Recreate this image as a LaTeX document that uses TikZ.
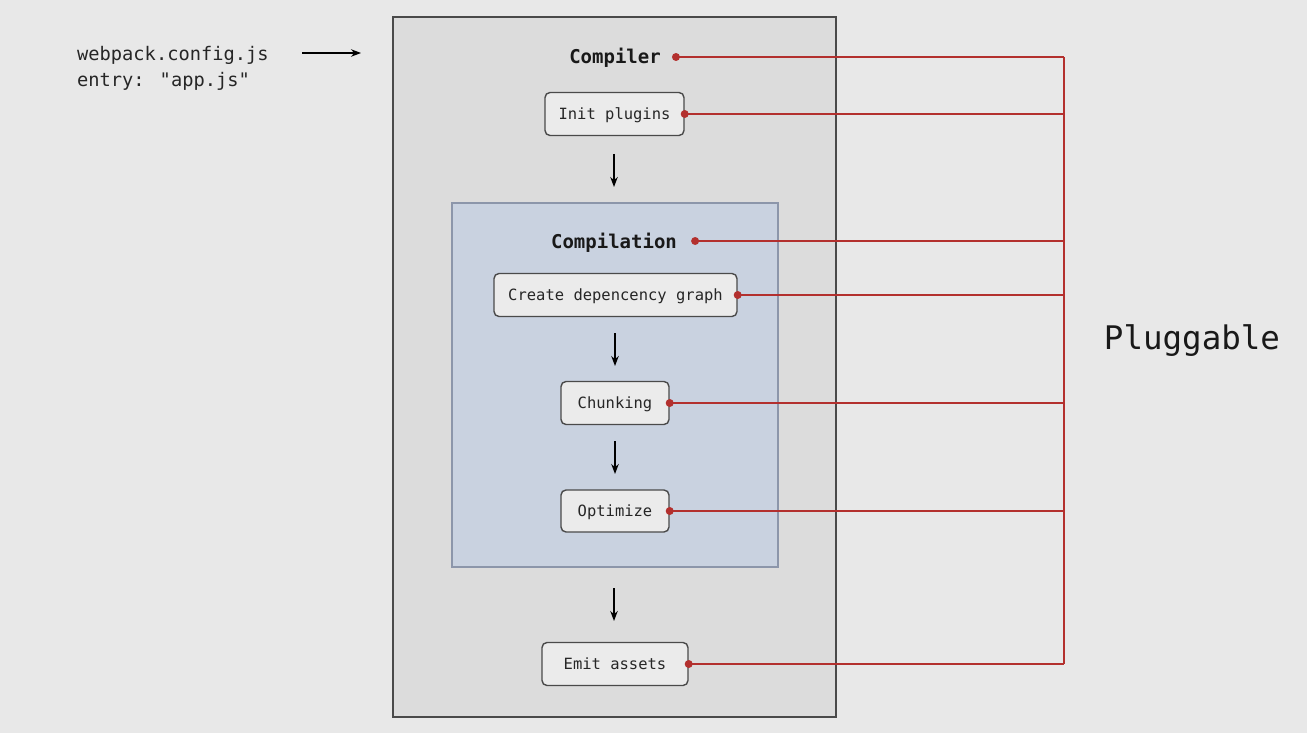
\documentclass[tikz,border=0pt]{standalone}
\usepackage{fontspec}
\newfontfamily\mono{DejaVu Sans Mono}
\usetikzlibrary{arrows.meta}
\definecolor{bgc}{HTML}{E8E8E8}
\definecolor{outerfill}{HTML}{DCDCDC}
\definecolor{outerline}{HTML}{4A4A4A}
\definecolor{innerfill}{HTML}{C9D2E0}
\definecolor{innerline}{HTML}{8C96AA}
\definecolor{boxfill}{HTML}{EBEBEB}
\definecolor{plug}{HTML}{B3302E}
\tikzset{
  stepbox/.style={draw=outerline, line width=1.4pt, fill=boxfill, rounded corners=5pt,
    font=\mono\fontsize{15.5}{18}\selectfont, text=black!85, inner sep=0pt,
    text height=11pt, text depth=0pt},
  heading/.style={font=\mono\bfseries\fontsize{19}{22}\selectfont, text=black!90, inner sep=0pt,
    text height=14pt, text depth=0pt},
  flow/.style={line width=1.3pt, -{Stealth[length=10pt,width=7.5pt]}},
  hook/.style={draw=plug, line width=1.8pt},
  hookdot/.style={circle, fill=plug, inner sep=0pt, minimum size=8pt},
}
\begin{document}
\begin{tikzpicture}[x=1pt,y=-1pt]
  % canvas
  \fill[bgc] (0,0) rectangle (1307,733);
  \useasboundingbox (0,0) rectangle (1307,733);

  % compiler frame and compilation frame
  \draw[fill=outerfill, draw=outerline, line width=1.5pt] (393,17) rectangle (836,717);
  \draw[fill=innerfill, draw=innerline, line width=1.5pt] (452,203) rectangle (778,567);

  % configuration input
  \node[anchor=west, inner sep=0pt, align=left, font=\mono\fontsize{18.7}{26}\selectfont, text=black!85]
    (config) at (77,68) {webpack.config.js\\entry: "app.js"};
  \coordinate (inS) at (302,53);
  \coordinate (inE) at (361,53);
  \draw[flow] (inS) -- (inE);

  % titles (east anchor sits on the hook point)
  \node[heading, inner xsep=15pt] (compiler) at (615,57) {Compiler};
  \node[heading, inner xsep=18pt] (compilation) at (614,241) {Compilation};

  % steps
  \node[stepbox, minimum width=139pt, minimum height=43pt] (init) at (614.5,114) {Init plugins};
  \node[stepbox, minimum width=243pt, minimum height=43pt] (graph) at (615.5,295) {Create depencency graph};
  \node[stepbox, minimum width=108pt, minimum height=43pt] (chunk) at (615,403) {Chunking};
  \node[stepbox, minimum width=108pt, minimum height=42pt] (opt) at (615,511) {Optimize};
  \node[stepbox, minimum width=146pt, minimum height=43pt] (emit) at (615,664) {Emit assets};

  % flow arrows
  \coordinate (f1s) at (614,154); \coordinate (f1e) at (614,187);
  \coordinate (f2s) at (615,333); \coordinate (f2e) at (615,366);
  \coordinate (f3s) at (615,441); \coordinate (f3e) at (615,474);
  \coordinate (f4s) at (614,588); \coordinate (f4e) at (614,621);
  \draw[flow] (f1s) -- (f1e);
  \draw[flow] (f2s) -- (f2e);
  \draw[flow] (f3s) -- (f3e);
  \draw[flow] (f4s) -- (f4e);

  % plugin hooks
  \coordinate (busTop) at (1064,57);
  \coordinate (busBot) at (1064,664);
  \draw[hook] (busTop) -- (busBot);
  \foreach \n in {compiler,init,compilation,graph,chunk,opt} {
    \draw[hook] (\n.east) -- (\n.east -| busTop);
    \node[hookdot] at (\n.east) {};
  }
  \draw[hook] (emit.east) -- (busBot);
  \node[hookdot] at (emit.east) {};

  \node[font=\mono\fontsize{32.5}{36}\selectfont, text=black!90, inner sep=0pt,
    text height=24pt, text depth=0pt] (pluggable) at (1192,337) {Pluggable};
\end{tikzpicture}
\end{document}
